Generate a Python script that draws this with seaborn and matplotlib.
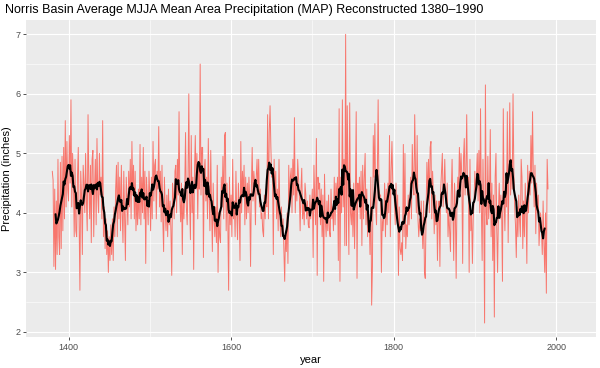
import numpy as np
import pandas as pd
import matplotlib
matplotlib.use("Agg")
import matplotlib.pyplot as plt
import seaborn as sns

# reconstructed MJJA mean area precipitation (inches), one value per year from 1380
start_year = 1380
axis_end_year = 2017  # the source x scale runs past the last reconstructed year
map_values = [
    4.70, 4.55, 3.10, 4.40, 3.05, 4.20, 3.30, 4.90, 3.60, 3.30,  # 1380
    4.85, 3.40, 4.95, 3.70, 5.10, 3.90, 5.55, 4.10, 5.20, 4.40,  # 1390
    4.20, 5.30, 4.50, 5.90, 4.10, 5.00, 4.60, 3.60, 4.90, 3.70,  # 1400
    3.60, 4.60, 5.10, 3.90, 2.70, 4.70, 4.30, 3.30, 4.80, 4.50,  # 1410
    4.00, 5.00, 4.20, 3.70, 5.65, 4.50, 3.90, 4.80, 3.50, 4.90,  # 1420
    5.05, 3.60, 4.40, 4.90, 3.80, 5.25, 4.30, 4.00, 5.00, 4.30,  # 1430
    4.60, 3.90, 5.55, 3.60, 4.10, 3.40, 3.90, 3.30, 3.70, 3.00,  # 1440
    3.60, 3.20, 3.80, 3.30, 3.90, 3.20, 4.10, 3.60, 4.40, 4.80,  # 1450
    3.60, 4.85, 3.90, 4.60, 3.70, 4.80, 4.00, 3.50, 4.70, 3.90,  # 1460
    3.20, 4.60, 4.20, 3.80, 4.70, 4.10, 4.90, 3.90, 5.20, 4.30,  # 1470
    4.80, 3.90, 4.70, 3.70, 4.30, 3.80, 4.40, 3.90, 5.15, 3.80,  # 1480
    4.60, 4.00, 5.10, 3.90, 4.70, 3.15, 4.60, 4.20, 3.80, 4.70,  # 1490
    4.30, 3.70, 4.60, 3.90, 5.20, 4.20, 4.80, 4.90, 3.90, 4.70,  # 1500
    4.40, 5.45, 4.10, 4.70, 3.85, 4.80, 3.90, 3.35, 4.60, 4.00,  # 1510
    3.70, 4.30, 3.60, 4.40, 3.80, 4.20, 3.70, 2.95, 4.50, 4.30,  # 1520
    3.90, 4.70, 4.80, 4.00, 4.90, 4.30, 5.70, 4.20, 3.85, 4.50,  # 1530
    3.30, 4.40, 3.90, 4.40, 5.35, 4.10, 3.80, 4.50, 6.00, 4.20,  # 1540
    3.55, 5.30, 4.00, 4.60, 3.05, 4.70, 5.30, 4.40, 5.00, 3.90,  # 1550
    4.80, 4.40, 6.50, 4.30, 5.10, 5.10, 3.25, 4.70, 4.90, 4.20,  # 1560
    4.60, 3.90, 5.25, 4.30, 3.70, 5.05, 4.10, 3.35, 4.50, 3.90,  # 1570
    3.60, 4.10, 3.50, 4.80, 3.00, 4.00, 3.60, 3.50, 4.60, 4.10,  # 1580
    4.95, 3.90, 5.30, 5.35, 3.70, 4.50, 3.90, 2.70, 4.60, 3.80,  # 1590
    4.30, 3.60, 4.90, 3.90, 4.20, 3.60, 4.70, 4.00, 3.55, 4.50,  # 1600
    4.10, 3.20, 5.20, 4.00, 4.70, 4.30, 4.80, 3.80, 4.60, 3.90,  # 1610
    4.50, 4.00, 4.60, 4.20, 3.10, 4.40, 5.10, 4.20, 4.70, 4.50,  # 1620
    3.80, 4.60, 4.90, 4.30, 4.90, 4.10, 4.40, 3.90, 4.00, 3.70,  # 1630
    3.60, 4.30, 3.90, 4.40, 4.10, 5.65, 3.90, 5.35, 5.80, 5.10,  # 1640
    4.60, 4.70, 3.30, 4.90, 4.30, 4.70, 3.90, 4.40, 3.70, 4.90,  # 1650
    4.00, 3.60, 4.10, 3.60, 3.90, 3.40, 2.85, 3.70, 3.35, 4.00,  # 1660
    3.15, 4.80, 4.10, 4.60, 4.75, 4.00, 4.90, 4.30, 5.60, 4.00,  # 1670
    4.60, 4.20, 4.90, 4.60, 4.30, 3.70, 4.40, 4.75, 3.90, 4.20,  # 1680
    3.80, 4.50, 4.30, 3.90, 4.20, 3.80, 3.75, 4.30, 3.90, 4.10,  # 1690
    4.40, 3.25, 4.80, 4.20, 3.80, 5.25, 2.95, 4.60, 4.40, 4.50,  # 1700
    3.80, 4.40, 3.60, 4.30, 2.85, 4.65, 3.90, 3.60, 4.20, 3.70,  # 1710
    4.30, 3.70, 3.60, 4.40, 3.90, 4.10, 3.70, 4.60, 3.80, 4.50,  # 1720
    4.20, 4.60, 3.20, 5.75, 2.85, 4.60, 4.00, 5.90, 4.10, 4.90,  # 1730
    3.45, 7.00, 3.45, 5.80, 4.40, 3.30, 5.85, 4.00, 3.80, 4.30,  # 1740
    3.60, 4.50, 3.40, 4.30, 5.70, 2.90, 4.50, 4.20, 4.60, 3.90,  # 1750
    4.70, 3.45, 4.80, 3.90, 4.60, 5.00, 3.80, 4.40, 3.60, 4.00,  # 1760
    3.90, 3.30, 4.60, 2.45, 3.10, 5.30, 4.60, 5.50, 4.10, 3.80,  # 1770
    4.60, 5.90, 4.40, 4.30, 4.30, 3.00, 3.90, 3.70, 4.00, 4.50,  # 1780
    3.60, 4.40, 3.80, 4.50, 4.00, 5.30, 3.60, 4.70, 5.20, 4.50,  # 1790
    4.40, 4.20, 3.80, 4.50, 3.90, 4.30, 2.95, 4.10, 3.40, 3.30,  # 1800
    3.50, 3.20, 5.15, 3.60, 5.00, 3.40, 3.80, 3.60, 4.30, 3.80,  # 1810
    4.20, 4.60, 3.90, 5.15, 4.50, 4.30, 5.65, 4.70, 4.00, 5.30,  # 1820
    3.90, 3.60, 3.90, 3.70, 4.20, 3.80, 3.40, 4.20, 3.00, 2.90,  # 1830
    4.00, 4.85, 4.20, 4.90, 4.00, 5.10, 5.20, 3.90, 4.70, 4.30,  # 1840
    3.65, 4.30, 3.80, 4.20, 3.20, 4.00, 4.20, 3.10, 4.40, 4.70,  # 1850
    5.00, 4.10, 4.40, 4.90, 4.30, 4.00, 4.50, 3.60, 4.00, 3.70,  # 1860
    3.35, 4.30, 4.90, 4.00, 3.20, 4.50, 4.10, 2.90, 4.20, 4.60,  # 1870
    4.40, 5.10, 4.50, 5.00, 4.60, 3.15, 4.90, 5.25, 4.30, 4.70,  # 1880
    5.65, 4.30, 4.60, 3.00, 4.90, 3.70, 4.00, 3.15, 3.90, 4.20,  # 1890
    4.70, 4.40, 4.60, 5.00, 4.20, 5.05, 4.00, 5.75, 4.10, 3.20,  # 1900
    4.90, 4.00, 2.15, 6.15, 4.00, 3.80, 4.95, 3.90, 4.20, 5.40,  # 1910
    3.60, 4.50, 3.20, 4.30, 2.25, 4.60, 5.00, 3.70, 3.00, 4.00,  # 1920
    4.50, 3.90, 4.30, 4.00, 2.85, 5.75, 4.20, 3.70, 4.60, 4.10,  # 1930
    5.70, 3.50, 4.60, 5.85, 4.30, 4.90, 4.40, 6.00, 4.70, 4.10,  # 1940
    3.80, 3.25, 4.10, 3.60, 4.30, 3.90, 3.60, 4.90, 4.60, 3.40,  # 1950
    4.20, 3.60, 4.50, 4.00, 3.15, 4.80, 4.00, 4.70, 4.30, 5.30,  # 1960
    4.50, 5.70, 4.60, 4.10, 4.80, 3.65, 4.50, 4.00, 4.30, 3.45,  # 1970
    3.80, 4.00, 3.70, 3.30, 4.20, 3.50, 3.00, 4.00, 2.65, 4.90,  # 1980
    4.40,                                                        # 1990
]
smooth_window = 9

x_ticks = [1400, 1600, 1800, 2000]
x_minor = [1500, 1700, 1900]
y_ticks = [2, 3, 4, 5, 6, 7]
y_minor = [2.5, 3.5, 4.5, 5.5, 6.5]

title = "Norris Basin Average MJJA Mean Area Precipitation (MAP) Reconstructed 1380\u20131990"

df = pd.DataFrame({
    "year": np.arange(start_year, start_year + len(map_values)),
    "map": map_values,
})
df["smooth"] = df["map"].rolling(smooth_window, center=True).mean()

sns.set_theme(style="darkgrid", rc={
    "axes.facecolor": "#EBEBEB",
    "grid.color": "white",
    "axes.edgecolor": "#EBEBEB",
})
plt.rcParams["font.family"] = ["Liberation Sans", "DejaVu Sans"]

fig = plt.figure(figsize=(6, 3.68), dpi=100)
ax = fig.add_axes([0.044, 0.083, 0.949, 0.863])

sns.lineplot(data=df, x="year", y="map", color="#F8766D", linewidth=0.7,
             estimator=None, ax=ax)
sns.lineplot(data=df.dropna(), x="year", y="smooth", color="black",
             linewidth=1.5, estimator=None, ax=ax)

# ggplot-like 5% expansion
xpad = 0.05 * (axis_end_year - start_year)
ax.set_xlim(start_year - xpad, axis_end_year + xpad)
lo, hi = min(map_values), max(map_values)
ypad = 0.05 * (hi - lo)
ax.set_ylim(lo - ypad, hi + ypad)

ax.set_xticks(x_ticks)
ax.set_xticks(x_minor, minor=True)
ax.set_yticks(y_ticks)
ax.set_yticks(y_minor, minor=True)
ax.grid(which="major", color="white", linewidth=0.8)
ax.grid(which="minor", color="white", linewidth=0.4)
for s in ax.spines.values():
    s.set_visible(False)

ax.tick_params(which="major", length=2.5, width=0.6, color="#333333",
               labelcolor="#4D4D4D", labelsize=6.5, pad=1.5,
               bottom=True, left=True)
ax.tick_params(which="minor", length=0)

ax.set_xlabel("year", fontsize=8, color="black", labelpad=2)
ax.set_ylabel("Precipitation (inches)", fontsize=8, color="black", labelpad=3)

fig.text(5 / 600, 1 - 10 / 368, title, ha="left", va="center", fontsize=9,
         color="black")

fig.savefig("out.png", dpi=100, facecolor="white")
